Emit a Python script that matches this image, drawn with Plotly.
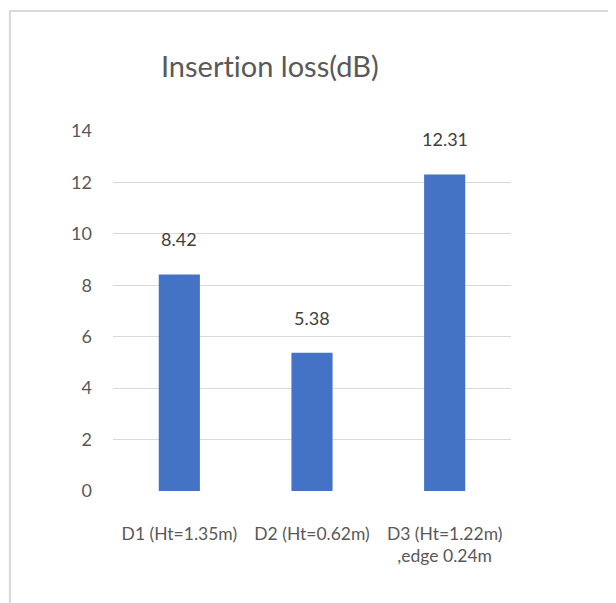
import plotly.graph_objects as go

categories = ["D1 (Ht=1.35m)", "D2 (Ht=0.62m)", "D3 (Ht=1.22m)<br>,edge 0.24m"]
values = [8.42, 5.38, 12.31]
value_labels = ["8.42", "5.38", "12.31"]
tick_vals = [0, 2, 4, 6, 8, 10, 12, 14]
tick_text = ["0", "2", "4", "6", "8", "10", "12", "14"]
title_text = "Insert\u200cion loss(dB)"

font_family = "Lato, 'Open Sans', sans-serif"
text_color = "#595959"

fig = go.Figure(
    go.Bar(
        x=categories,
        y=values,
        marker=dict(color="#4472c4", line=dict(width=0)),
        width=0.31,
    )
)

for c, v, t in zip(categories, values, value_labels):
    fig.add_annotation(
        x=c, y=v, text=t, showarrow=False,
        yanchor="bottom", yshift=22,
        font=dict(size=18, color="#404040", family=font_family),
    )

fig.update_layout(
    width=616,
    height=603,
    margin=dict(l=105, r=113, t=123, b=120),
    paper_bgcolor="white",
    plot_bgcolor="white",
    showlegend=False,
    title=dict(
        text=title_text,
        x=0.425,
        xanchor="center",
        y=0.902,
        yanchor="middle",
        font=dict(size=29, color=text_color, family=font_family),
    ),
    xaxis=dict(
        showgrid=False,
        showline=False,
        ticks="",
        tickfont=dict(size=17.5, color=text_color, family=font_family),
        ticklabelstandoff=30,
    ),
    yaxis=dict(
        range=[0, 14],
        tickvals=tick_vals,
        ticktext=tick_text,
        showgrid=True,
        gridcolor="#d9d9d9",
        gridwidth=1,
        zeroline=False,
        showline=False,
        ticks="",
        tickfont=dict(size=18, color=text_color, family=font_family),
        ticklabelstandoff=20,
    ),
    bargap=0.69,
)

fig.add_shape(
    type="rect",
    xref="paper",
    yref="paper",
    x0=-0.259,
    x1=1.3,
    y0=-0.35,
    y1=1.333,
    line=dict(color="#d9d9d9", width=2),
    fillcolor="rgba(0,0,0,0)",
    layer="below",
)

fig.write_html("out.html")
